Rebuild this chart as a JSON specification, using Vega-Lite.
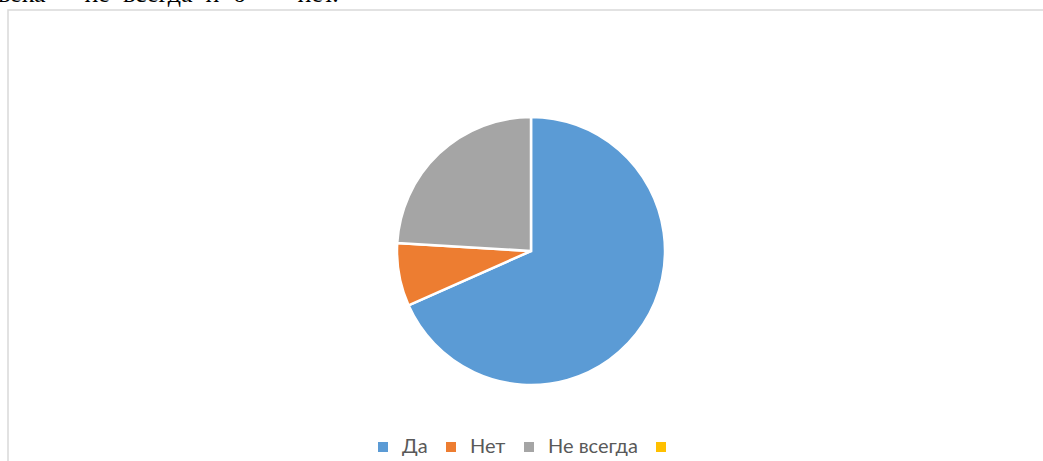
{
  "$schema": "https://vega.github.io/schema/vega-lite/v6.json",
  "autosize": {"type": "none"},
  "padding": {"left": 8, "top": 10, "right": 0, "bottom": 0},
  "width": 1046,
  "height": 482,
  "background": "white",
  "view": {"stroke": "#d9d9d9", "strokeWidth": 1.5, "fill": "white"},
  "title": {
    "text": "века \u00a0– \u00a0не \u00a0всегда \u00a0и \u00a06 \u00a0\u00a0– \u00a0\u00a0нет.",
    "anchor": "start",
    "frame": "group",
    "font": "Liberation Serif",
    "fontSize": 26,
    "fontWeight": "normal",
    "color": "black",
    "baseline": "alphabetic",
    "offset": -18,
    "dx": -10
  },
  "data": {
    "values": [
      {"answer": "Да", "count": 54, "i": 1},
      {"answer": "Нет", "count": 6, "i": 2},
      {"answer": "Не всегда", "count": 19, "i": 3}
    ]
  },
  "mark": {"type": "arc", "outerRadius": 134, "stroke": "white", "strokeWidth": 2.5},
  "encoding": {
    "theta": {"field": "count", "type": "quantitative", "stack": true},
    "order": {"field": "i", "type": "quantitative"},
    "color": {
      "field": "answer",
      "type": "nominal",
      "scale": {
        "domain": ["Да", "Нет", "Не всегда", " "],
        "range": ["#5B9BD5", "#ED7D31", "#A5A5A5", "#FFC000"]
      },
      "legend": {
        "title": null,
        "orient": "none",
        "direction": "horizontal",
        "legendX": 365,
        "legendY": 427,
        "symbolType": "square",
        "symbolSize": 100,
        "symbolStrokeWidth": 0,
        "labelFont": "Lato",
        "labelFontSize": 20,
        "labelColor": "#595959",
        "labelOffset": 9,
        "columnPadding": 13
      }
    }
  }
}
